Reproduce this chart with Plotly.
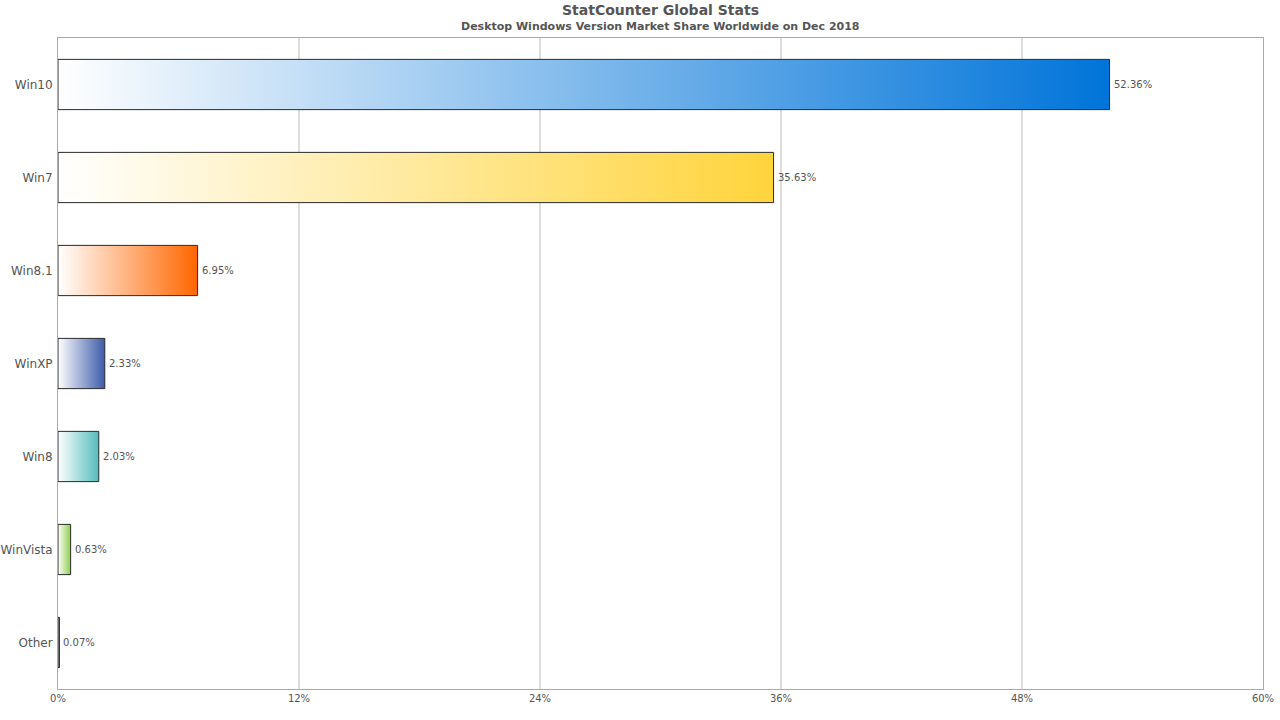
import plotly.graph_objects as go

categories = ["Win10", "Win7", "Win8.1", "WinXP", "Win8", "WinVista", "Other"]
values = [52.36, 35.63, 6.95, 2.33, 2.03, 0.63, 0.07]
colors = ["#0074d9", "#ffd43b", "#ff6600", "#3d5ba9", "#56bcbc", "#8ccf4d", "#333333"]
xticks = [0, 12, 24, 36, 48, 60]
xticklabels = ["0%", "12%", "24%", "36%", "48%", "60%"]

HALF = 0.27
fig = go.Figure()
for i, (cat, v, c) in enumerate(zip(categories, values, colors)):
    fig.add_trace(go.Scatter(
        x=[0, v, v, 0, 0],
        y=[i - HALF, i - HALF, i + HALF, i + HALF, i - HALF],
        mode="lines",
        fill="toself",
        fillgradient=dict(type="horizontal", colorscale=[[0, "#ffffff"], [1, c]]),
        line=dict(color="#2a2a2a", width=1),
        hoverinfo="skip",
        showlegend=False,
    ))

annotations = [
    dict(text="<b>StatCounter Global Stats</b>", x=0.5, y=1, xref="paper", yref="paper",
         xanchor="center", yanchor="top", yshift=38, showarrow=False,
         font=dict(size=14, color="#555555")),
    dict(text="<b>Desktop Windows Version Market Share Worldwide on Dec 2018</b>", x=0.5, y=1,
         xref="paper", yref="paper", xanchor="center", yanchor="top", yshift=20,
         showarrow=False, font=dict(size=11, color="#555555")),
]
for i, v in enumerate(values):
    annotations.append(dict(
        text=f"{v:.2f}%", x=v, y=i, xref="x", yref="y", xanchor="left", yanchor="middle",
        xshift=2, showarrow=False, font=dict(size=10, color="#555555"),
    ))

fig.update_layout(
    width=1280, height=720,
    margin=dict(l=58, r=17, t=38, b=31, autoexpand=False),
    paper_bgcolor="white", plot_bgcolor="white",
    font=dict(family="DejaVu Sans", color="#555555"),
    annotations=annotations,
)
fig.update_xaxes(
    range=[0, 60], tickvals=xticks, ticktext=xticklabels, automargin=False,
    showgrid=True, gridcolor="#dddddd", gridwidth=1.5,
    zeroline=False, showline=True, linecolor="#aaaaaa", mirror=True,
    tickfont=dict(size=10, color="#555555"), ticks="",
)
fig.update_yaxes(
    range=[6.5, -0.5], tickvals=list(range(len(categories))), ticktext=categories,
    automargin=False, ticklabelstandoff=2,
    showgrid=False, zeroline=False, showline=True, linecolor="#aaaaaa", mirror=True,
    tickfont=dict(size=12, color="#555555"), ticks="",
)
fig.write_html(
    "out.html",
    config={"displayModeBar": False},
    post_script="document.body.style.margin='0';document.body.style.overflow='hidden';",
)
